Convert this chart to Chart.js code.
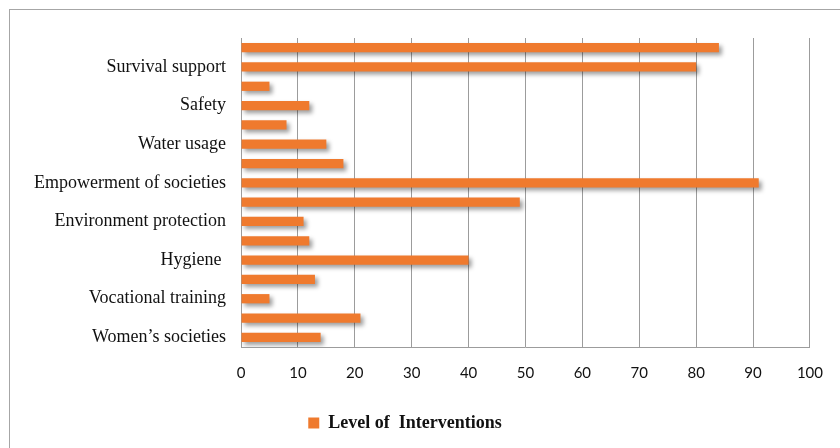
<!DOCTYPE html>
<html>
<head>
<meta charset="utf-8">
<script src="https://cdn.jsdelivr.net/npm/chart.js@4"></script>
<style>
  html, body { margin: 0; padding: 0; background: #fff; overflow: hidden; }
  #wrap { position: relative; width: 840px; height: 448px; }
  #frame { position: absolute; left: 9px; top: 9px; width: 900px; height: 500px;
           border: 1px solid #a6a6a6; box-sizing: border-box; pointer-events: none; }
  canvas { position: absolute; left: 0; top: 0; }
</style>
</head>
<body>
<div id="wrap">
  <div id="frame"></div>
  <canvas id="c" width="840" height="448"></canvas>
</div>
<script>
// Intervention areas, listed from the top bar down; only every other one carries a label
const categories = [
  '', 'Survival support', '', 'Safety', '', 'Water usage', '', 'Empowerment of societies',
  '', 'Environment protection', '', 'Hygiene ', '', 'Vocational training', '', 'Women\u2019s societies'
];
const interventionLevels = [84, 80, 5, 12, 8, 15, 18, 91, 49, 11, 12, 40, 13, 5, 21, 14];
const seriesName = 'Level of  Interventions';
const xTicks = [0, 10, 20, 30, 40, 50, 60, 70, 80, 90, 100];

// Soft drop shadow beneath the bars
const barShadow = {
  id: 'barShadow',
  beforeDatasetsDraw(chart) {
    const ctx = chart.ctx;
    ctx.save();
    ctx.shadowColor = 'rgba(0,0,0,0.38)';
    ctx.shadowBlur = 4;
    ctx.shadowOffsetX = 3;
    ctx.shadowOffsetY = 3;
  },
  afterDatasetsDraw(chart) {
    chart.ctx.restore();
  }
};

new Chart(document.getElementById('c'), {
  type: 'bar',
  data: {
    labels: categories,
    datasets: [{
      label: seriesName,
      data: interventionLevels,
      backgroundColor: '#ef7a2e',
      borderWidth: 0,
      categoryPercentage: 1,
      barPercentage: 0.48
    }]
  },
  options: {
    indexAxis: 'y',
    responsive: false,
    animation: false,
    events: [],
    layout: { padding: { left: 0, right: 30, top: 38, bottom: 6 } },
    scales: {
      x: {
        min: 0, max: 100,
        afterBuildTicks(scale) { scale.ticks = xTicks.map(v => ({ value: v })); },
        grid: { color: '#9c9c9c', lineWidth: 1, drawTicks: false },
        border: { color: '#9c9c9c' },
        ticks: { color: '#111', font: { family: 'Lato', size: 15 }, padding: 17 },
        afterFit(scale) { scale.height = 55; }
      },
      y: {
        grid: { display: false, drawTicks: false },
        border: { color: '#9c9c9c' },
        ticks: {
          autoSkip: false,
          color: '#111',
          font: { family: 'Liberation Serif', size: 18 },
          padding: 15
        },
        afterFit(scale) { scale.width = 241; }
      }
    },
    plugins: {
      legend: {
        position: 'bottom',
        labels: {
          color: '#111',
          font: { family: 'Liberation Serif', size: 18, weight: 'bold' },
          boxWidth: 11, boxHeight: 11, padding: 12
        }
      },
      tooltip: { enabled: false }
    }
  },
  plugins: [barShadow]
});
</script>
</body>
</html>
